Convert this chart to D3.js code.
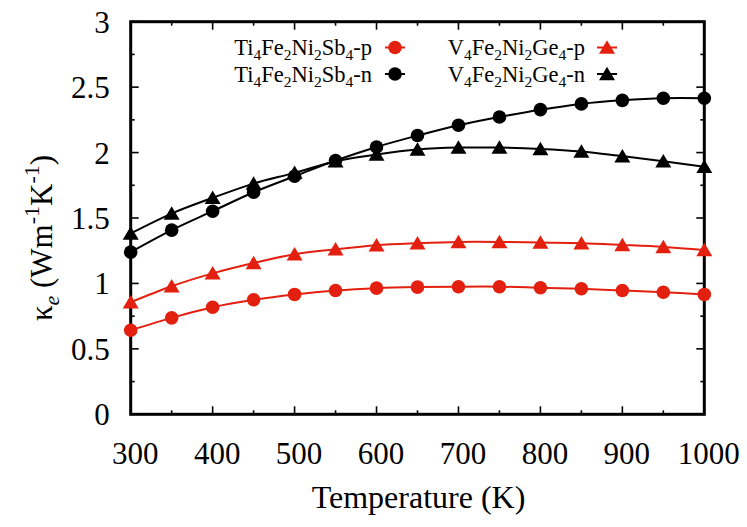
<!DOCTYPE html>
<html><head><meta charset="utf-8">
<script src="https://cdn.jsdelivr.net/npm/d3@7"></script>
<style>
html,body{margin:0;padding:0;background:#fff;}
svg{display:block;}
</style></head>
<body><svg id="chart" width="747" height="527"></svg>
<script>
// ---- data ----
const temps = [300,350,400,450,500,550,600,650,700,750,800,850,900,950,1000];
const tiP = [0.642,0.737,0.818,0.875,0.916,0.946,0.964,0.972,0.975,0.975,0.967,0.959,0.946,0.933,0.916];
const tiN = [1.239,1.407,1.552,1.697,1.819,1.939,2.043,2.130,2.209,2.272,2.328,2.372,2.399,2.415,2.415];
const vP  = [0.857,0.979,1.077,1.156,1.223,1.261,1.292,1.307,1.317,1.317,1.312,1.307,1.294,1.279,1.256];
const vN  = [1.382,1.534,1.654,1.763,1.845,1.934,1.985,2.023,2.038,2.038,2.028,2.008,1.972,1.934,1.891];
const xTicks = [300,400,500,600,700,800,900,1000];
const yTicks = [0,0.5,1,1.5,2,2.5,3];
const seriesNames = [["Ti","4","Fe","2","Ni","2","Sb","4","-p"],["Ti","4","Fe","2","Ni","2","Sb","4","-n"],
                     ["V","4","Fe","2","Ni","2","Ge","4","-p"],["V","4","Fe","2","Ni","2","Ge","4","-n"]];
const RED = "#e3200f", BLACK = "#000";
const FONT = "'Liberation Serif'";
const series = [
  {vals: tiP, color: RED,   shape: "circle"},
  {vals: tiN, color: BLACK, shape: "circle"},
  {vals: vP,  color: RED,   shape: "triangle"},
  {vals: vN,  color: BLACK, shape: "triangle"}
];

const L = 130.7, R = 704.3, T = 21.7, B = 414.3;
const svg = d3.select("#chart");
const x = d3.scaleLinear().domain([300,1000]).range([L,R]);
const y = d3.scaleLinear().domain([0,3]).range([B,T]);

// axes with ticks inside
const fs = 31;
const axL = d3.axisLeft(y).tickValues(yTicks).tickFormat(d3.format("")).tickSize(0).tickPadding(21);
const gL = svg.append("g").attr("transform",`translate(${L},0)`).call(axL);
gL.select(".domain").remove();
gL.attr("font-family",null);
gL.selectAll("text").attr("font-size",fs).attr("fill","#000").attr("dy","0.34em").style("font-family",FONT);
const axB = d3.axisBottom(x).tickValues(xTicks).tickFormat(d3.format("")).tickSize(0).tickPadding(28);
const gB = svg.append("g").attr("transform",`translate(0,${B})`).call(axB);
gB.select(".domain").remove();
gB.attr("font-family",null);
gB.selectAll("text").attr("font-size",fs).attr("fill","#000").attr("dx",4).style("font-family",FONT);

// tick marks (major + minor, mirrored)
const tk = svg.append("g").attr("stroke","#000").attr("stroke-width",1.6);
d3.range(0,3.001,0.25).forEach(v=>{
  const len = (Math.abs(v*2-Math.round(v*2))<1e-6)?8:4;
  tk.append("line").attr("x1",L).attr("x2",L+len).attr("y1",y(v)).attr("y2",y(v));
  tk.append("line").attr("x1",R).attr("x2",R-len).attr("y1",y(v)).attr("y2",y(v));
});
d3.range(300,1000.1,50).forEach(v=>{
  const len = (v%100===0)?8:4;
  tk.append("line").attr("y1",B).attr("y2",B-len).attr("x1",x(v)).attr("x2",x(v));
  tk.append("line").attr("y1",T).attr("y2",T+len).attr("x1",x(v)).attr("x2",x(v));
});
// border
svg.append("rect").attr("x",L).attr("y",T).attr("width",R-L).attr("height",B-T)
  .attr("fill","none").attr("stroke","#000").attr("stroke-width",3);

// axis titles
svg.append("text").attr("x",(L+R)/2+1).attr("y",508).attr("text-anchor","middle")
  .attr("font-size",32).style("font-family",FONT).text("Temperature (K)");
const yt = svg.append("text").attr("transform","translate(52,238) rotate(-90)")
  .attr("text-anchor","middle").attr("font-size",31).style("font-family",FONT);
yt.append("tspan").text("κ");
yt.append("tspan").attr("font-style","italic").attr("font-size",22).attr("dy",7).text("e");
yt.append("tspan").attr("dy",-7).text(" (Wm");
yt.append("tspan").attr("font-size",22).attr("dy",-13).text("-1");
yt.append("tspan").attr("dy",13).text("K");
yt.append("tspan").attr("font-size",22).attr("dy",-13).text("-1");
yt.append("tspan").attr("dy",13).text(")");

// marker drawing
function marker(g, shape, cx, cy, color){
  if(shape==="circle"){
    g.append("circle").attr("cx",cx).attr("cy",cy).attr("r",6.8).attr("fill",color);
  } else {
    const w=16, h=13.5;
    g.append("path").attr("d",`M${cx},${cy-h/2-0.5}L${cx+w/2},${cy+h/2-0.5}L${cx-w/2},${cy+h/2-0.5}Z`).attr("fill",color);
  }
}
const line = d3.line().curve(d3.curveCatmullRom.alpha(0.5));
series.forEach(s=>{
  const pts = temps.map((t,i)=>[x(t), y(s.vals[i])]);
  svg.append("path").attr("d",line(pts)).attr("fill","none").attr("stroke",s.color).attr("stroke-width",2);
});
series.forEach(s=>{
  const g = svg.append("g");
  temps.forEach((t,i)=>marker(g, s.shape, x(t), y(s.vals[i]), s.color));
});

// legend
const legPos = [{tx:372,y:47.5,mx:395},{tx:372,y:74,mx:395},{tx:585,y:47.5,mx:607},{tx:585,y:74,mx:607}];
series.forEach((s,i)=>{
  const p = legPos[i];
  const t = svg.append("text").attr("x",p.tx).attr("y",p.y+7.5).attr("text-anchor","end")
    .attr("font-size",22.5).style("font-family",FONT);
  const parts = seriesNames[i];
  let sub=false;
  parts.forEach((part,k)=>{
    const isSub = (k%2===1 && k<8);
    const ts = t.append("tspan").text(part);
    if(isSub){ ts.attr("font-size",15.5).attr("dy",5); sub=true; }
    else if(sub){ ts.attr("dy",-5); sub=false; }
  });
  svg.append("line").attr("x1",p.mx-10).attr("x2",p.mx+10).attr("y1",p.y).attr("y2",p.y)
    .attr("stroke",s.color).attr("stroke-width",2);
  marker(svg, s.shape, p.mx, p.y, s.color);
});
</script></body></html>
